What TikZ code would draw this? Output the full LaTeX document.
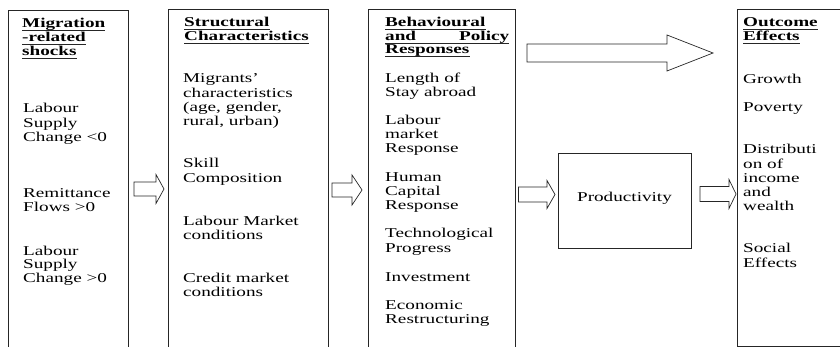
\documentclass[tikz,border=0pt]{standalone}
\usepackage{fontspec}
\setmainfont{Liberation Serif}[FakeStretch=1.42]
\usetikzlibrary{positioning}
\tikzset{
  colbox/.style={draw=black!85, line width=0.7pt},
  txt/.style={inner sep=0pt, anchor=base west, font=\fontsize{13.5}{15}\selectfont},
  hd/.style={txt, font=\fontsize{13.5}{15}\selectfont\bfseries},
  ul/.style={draw=black!85, line width=0.6pt},
  fat/.style={draw=black!85, line width=0.7pt, fill=white, line join=miter}
}
\newcommand{\FatArrow}[6]{%
  % #1 = tail x, #2 = head base x, #3 = tip x, #4 = centre y
  % #5 = shaft half width, #6 = head half width
  \draw[fat] (#1,#4-#5) -- (#2,#4-#5) -- (#2,#4-#6) -- (#3,#4)
    -- (#2,#4+#6) -- (#2,#4+#5) -- (#1,#4+#5) -- cycle;
}
\newcommand{\Heading}[4]{%
  % #1 = node name, #2 = x, #3 = baseline y, #4 = text
  \node[hd] (#1) at (#2,#3) {#4};
  \draw[ul] ([yshift=-2.6pt]#1.base west) -- ([yshift=-2.6pt]#1.base east);
}

\begin{document}
\begin{tikzpicture}[x=1pt, y=-1pt, line cap=butt]
  \useasboundingbox (0,0) rectangle (840,347);
  \clip (0,0) rectangle (840,347);

  % column frames (open at the bottom)
  \draw[colbox] (8,360) -- (8,10) -- (128,10) -- (128,360);
  \draw[colbox] (168,360) -- (168,9.5) -- (328,9.5) -- (328,360);
  \draw[colbox] (368.5,360) -- (368.5,9.5) -- (515.5,9.5) -- (515.5,360);
  \draw[colbox] (850,9) -- (737,9) -- (737,346) -- (850,346);
  \node[colbox, minimum width=133pt, minimum height=95pt, anchor=north west, inner sep=0pt] (prod) at (558,153) {};

  % block arrows
  \FatArrow{134}{156}{164}{189}{7}{14.5}
  \FatArrow{332}{352}{362}{190}{7}{15}
  \FatArrow{527}{667}{713}{53}{9}{18}
  \FatArrow{518.5}{547}{555}{194.5}{7.5}{14}
  \FatArrow{700}{729}{736}{194}{7.5}{14.5}

  % headings
  \Heading{h1a}{22}{27.5}{Migration}
  \Heading{h1b}{22}{41.5}{-related}
  \Heading{h1c}{22}{55.5}{shocks}
  \Heading{h2a}{184}{27}{Structural}
  \Heading{h2b}{184}{40.5}{Characteristics}
  \Heading{h3a}{385}{27}{Behavioural}
  \Heading{h3b}{385}{40.5}{\makebox[124pt][l]{and\hfill Policy}}
  \Heading{h3c}{385}{54}{Responses}
  \Heading{h4a}{743}{27}{Outcome}
  \Heading{h4b}{743}{41}{Effects}

  % shocks column
  \foreach \y/\t [count=\i] in {113/Labour, 127.5/Supply, 142/{Change <0},
      198/Remittance, 212/{Flows >0},
      255/Labour, 269/Supply, 283/{Change >0}}
    \node[txt] (shk-\i) at (23,\y) {\t};

  % structural column
  \foreach \y/\t [count=\i] in {83/{Migrants’}, 97.5/characteristics,
      112/{(age, gender,}, 126/{rural, urban)},
      168/Skill, 183/Composition,
      226/{Labour Market}, 240/conditions,
      282/{Credit market}, 296/conditions}
    \node[txt] (str-\i) at (183,\y) {\t};

  % behavioural column
  \foreach \y/\t [count=\i] in {83/{Length of}, 97/{Stay abroad},
      125/Labour, 139/market, 153/Response,
      182/Human, 196/Capital, 210/Response,
      238/Technological, 252/Progress,
      281/Investment,
      309/Economic, 323/Restructuring}
    \node[txt] (bhv-\i) at (385,\y) {\t};

  % outcome column
  \foreach \y/\t [count=\i] in {84/Growth, 112/Poverty,
      154/Distributi, 168.5/{on of}, 183/income, 197/and, 211/wealth,
      252/Social, 267/Effects}
    \node[txt] (out-\i) at (743,\y) {\t};

  \node[txt, anchor=base] (prodtxt) at (624.5,202) {Productivity};
\end{tikzpicture}
\end{document}
